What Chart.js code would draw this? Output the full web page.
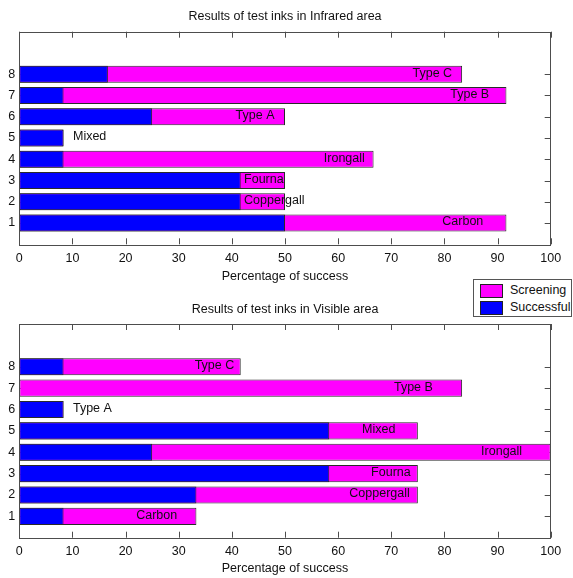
<!DOCTYPE html>
<html>
<head>
<meta charset="utf-8">
<title>Results of test inks</title>
<script src="https://cdn.jsdelivr.net/npm/chart.js@4.4.1/dist/chart.umd.min.js"></script>
<style>
  html, body { margin: 0; padding: 0; background: #fff; }
  #page { position: relative; width: 573px; height: 578px; overflow: hidden; }
  canvas { position: absolute; left: 0; }
  #irChart { top: 0; }
  #visChart { top: 290px; }
  #legend {
    position: absolute; left: 473px; top: 279px; width: 97px; height: 36px;
    border: 1px solid #555; background: #fff; z-index: 2;
    font-family: "Liberation Sans", Arial, sans-serif;
    font-size: 12.5px; color: #111;
  }
  .item { position: absolute; left: 6px; height: 14px; line-height: 14px; }
  .sw { position: absolute; left: 0; top: 0; width: 21px; height: 12px; border: 1px solid #222; }
  .txt { position: absolute; left: 30px; top: -1px; white-space: nowrap; }
</style>
</head>
<body>
<div id="page">
  <canvas id="irChart" width="573" height="290"></canvas>
  <canvas id="visChart" width="573" height="288"></canvas>
  <div id="legend"></div>
</div>
<script>
// Ink types, plotted at rows 1..8
const inks = ['Carbon', 'Coppergall', 'Fourna', 'Irongall', 'Mixed', 'Type A', 'Type B', 'Type C'];
const rows = [1, 2, 3, 4, 5, 6, 7, 8];

// Infrared area: percentage of success (screening covers the whole bar)
const irSuccessful = [50, 41.67, 41.67, 8.33, 8.33, 25, 8.33, 16.67];
const irScreening  = [91.67, 50, 50, 66.67, 8.33, 50, 91.67, 83.33];
// where each ink name is written along the bar (percentage units)
const irNameAt     = [79.6, 42.3, 42.3, 57.3, 10.1, 40.7, 81.1, 74.0];

// Visible area
const visSuccessful = [8.33, 33.33, 58.33, 25, 58.33, 8.33, 0, 8.33];
const visScreening  = [33.33, 75, 75, 100, 75, 8.33, 83.33, 41.67];
const visNameAt     = [22.0, 62.1, 66.2, 86.9, 64.5, 10.1, 70.5, 33.0];

// Axis ticks
const xTicks = [0, 10, 20, 30, 40, 50, 60, 70, 80, 90, 100];
const yTicks = [1, 2, 3, 4, 5, 6, 7, 8];

const FONT = '"Liberation Sans", Arial, sans-serif';
const FSIZE = 12.5;
Chart.defaults.font.family = FONT;
Chart.defaults.font.size = FSIZE;
Chart.defaults.color = '#111';

const SCREEN_COLOR = '#ff00ff';
const SUCCESS_COLOR = '#0000ff';
const EDGE = '#2a2a2a';
const AXIS = '#4d4d4d';

// Short inward tick marks on all four sides (drawn beneath the bars)
const innerTicks = {
  id: 'innerTicks',
  beforeDatasetsDraw(chart) {
    const { ctx, chartArea: a, scales: { x, y } } = chart;
    const len = 6;
    ctx.save();
    ctx.strokeStyle = AXIS;
    ctx.lineWidth = 1;
    ctx.beginPath();
    xTicks.forEach(v => {
      const px = Math.round(x.getPixelForValue(v)) + 0.5;
      ctx.moveTo(px, a.bottom); ctx.lineTo(px, a.bottom - len);
      ctx.moveTo(px, a.top); ctx.lineTo(px, a.top + len);
    });
    yTicks.forEach(v => {
      const py = Math.round(y.getPixelForValue(v)) + 0.5;
      ctx.moveTo(a.left, py); ctx.lineTo(a.left + len, py);
      ctx.moveTo(a.right, py); ctx.lineTo(a.right - len, py);
    });
    ctx.stroke();
    ctx.restore();
  },
  // frame around the axes
  afterDraw(chart) {
    const { ctx, chartArea: a } = chart;
    ctx.save();
    ctx.strokeStyle = AXIS;
    ctx.lineWidth = 1;
    ctx.strokeRect(Math.round(a.left) + 0.5, Math.round(a.top) + 0.5,
                   Math.round(a.right - a.left), Math.round(a.bottom - a.top));
    ctx.restore();
  }
};

// Ink names written over the bars
const inkNames = {
  id: 'inkNames',
  afterDatasetsDraw(chart, args, opts) {
    const { ctx, scales: { x, y } } = chart;
    ctx.save();
    ctx.font = FSIZE + 'px ' + FONT;
    ctx.fillStyle = '#111';
    ctx.textAlign = 'left';
    ctx.textBaseline = 'middle';
    inks.forEach((name, i) => {
      ctx.fillText(name, x.getPixelForValue(opts.at[i]), y.getPixelForValue(rows[i]) - 1);
    });
    ctx.restore();
  }
};

function makeChart(id, titleText, successful, screening, nameAt, layout) {
  const toPoints = vals => vals.map((v, i) => ({ x: v, y: rows[i] }));
  const barStyle = {
    borderColor: EDGE, borderWidth: 1, borderSkipped: false, grouped: false,
    categoryPercentage: 1, barPercentage: 0.8
  };
  return new Chart(document.getElementById(id), {
    type: 'bar',
    data: {
      datasets: [
        Object.assign({ label: 'Screening', data: toPoints(screening),
                        backgroundColor: SCREEN_COLOR, order: 2 }, barStyle),
        Object.assign({ label: 'Successful', data: toPoints(successful),
                        backgroundColor: SUCCESS_COLOR, order: 1 }, barStyle)
      ]
    },
    options: {
      indexAxis: 'y',
      responsive: false,
      animation: false,
      devicePixelRatio: 1,
      layout: { padding: { left: 0, right: 22.3, top: 0, bottom: 0 } },
      plugins: {
        legend: { display: false },
        tooltip: { enabled: false },
        title: {
          display: true, text: titleText, fullSize: false, color: '#111',
          font: { size: FSIZE, weight: 'normal', lineHeight: 1.2 },
          padding: { top: layout.titleTop, bottom: layout.titleBottom }
        },
        inkNames: { at: nameAt }
      },
      scales: {
        x: {
          type: 'linear', min: 0, max: 100, offset: false,
          afterBuildTicks: s => { s.ticks = xTicks.map(v => ({ value: v })); },
          afterFit: s => { s.height = layout.xHeight; },
          grid: { display: false, drawTicks: false, offset: false },
          border: { display: false },
          ticks: { padding: 6.5, color: '#111', maxRotation: 0 },
          title: { display: true, text: 'Percentage of success', color: '#111',
                   font: { size: FSIZE }, padding: { top: 0, bottom: layout.xTitleBottom } }
        },
        y: {
          type: 'linear', min: 0, max: 10, offset: false,
          afterBuildTicks: s => { s.ticks = yTicks.map(v => ({ value: v })); },
          afterFit: s => { s.width = 19.3; },
          grid: { display: false, drawTicks: false, offset: false },
          border: { display: false },
          ticks: { padding: 4, color: '#111' }
        }
      }
    },
    plugins: [innerTicks, inkNames]
  });
}

const irChart = makeChart('irChart', 'Results of test inks in Infrared area',
  irSuccessful, irScreening, irNameAt,
  { titleTop: 9, titleBottom: 7.7, xHeight: 45.7, xTitleBottom: 6 });

makeChart('visChart', 'Results of test inks in Visible area',
  visSuccessful, visScreening, visNameAt,
  { titleTop: 11.7, titleBottom: 7.3, xHeight: 40.3, xTitleBottom: 2 });

// Shared legend built from the dataset labels and colours
const legend = document.getElementById('legend');
irChart.data.datasets.forEach((ds, i) => {
  const item = document.createElement('div');
  item.className = 'item';
  item.style.top = (4 + i * 17) + 'px';
  const sw = document.createElement('span');
  sw.className = 'sw';
  sw.style.background = ds.backgroundColor;
  const txt = document.createElement('span');
  txt.className = 'txt';
  txt.textContent = ds.label;
  item.appendChild(sw);
  item.appendChild(txt);
  legend.appendChild(item);
});
</script>
</body>
</html>
